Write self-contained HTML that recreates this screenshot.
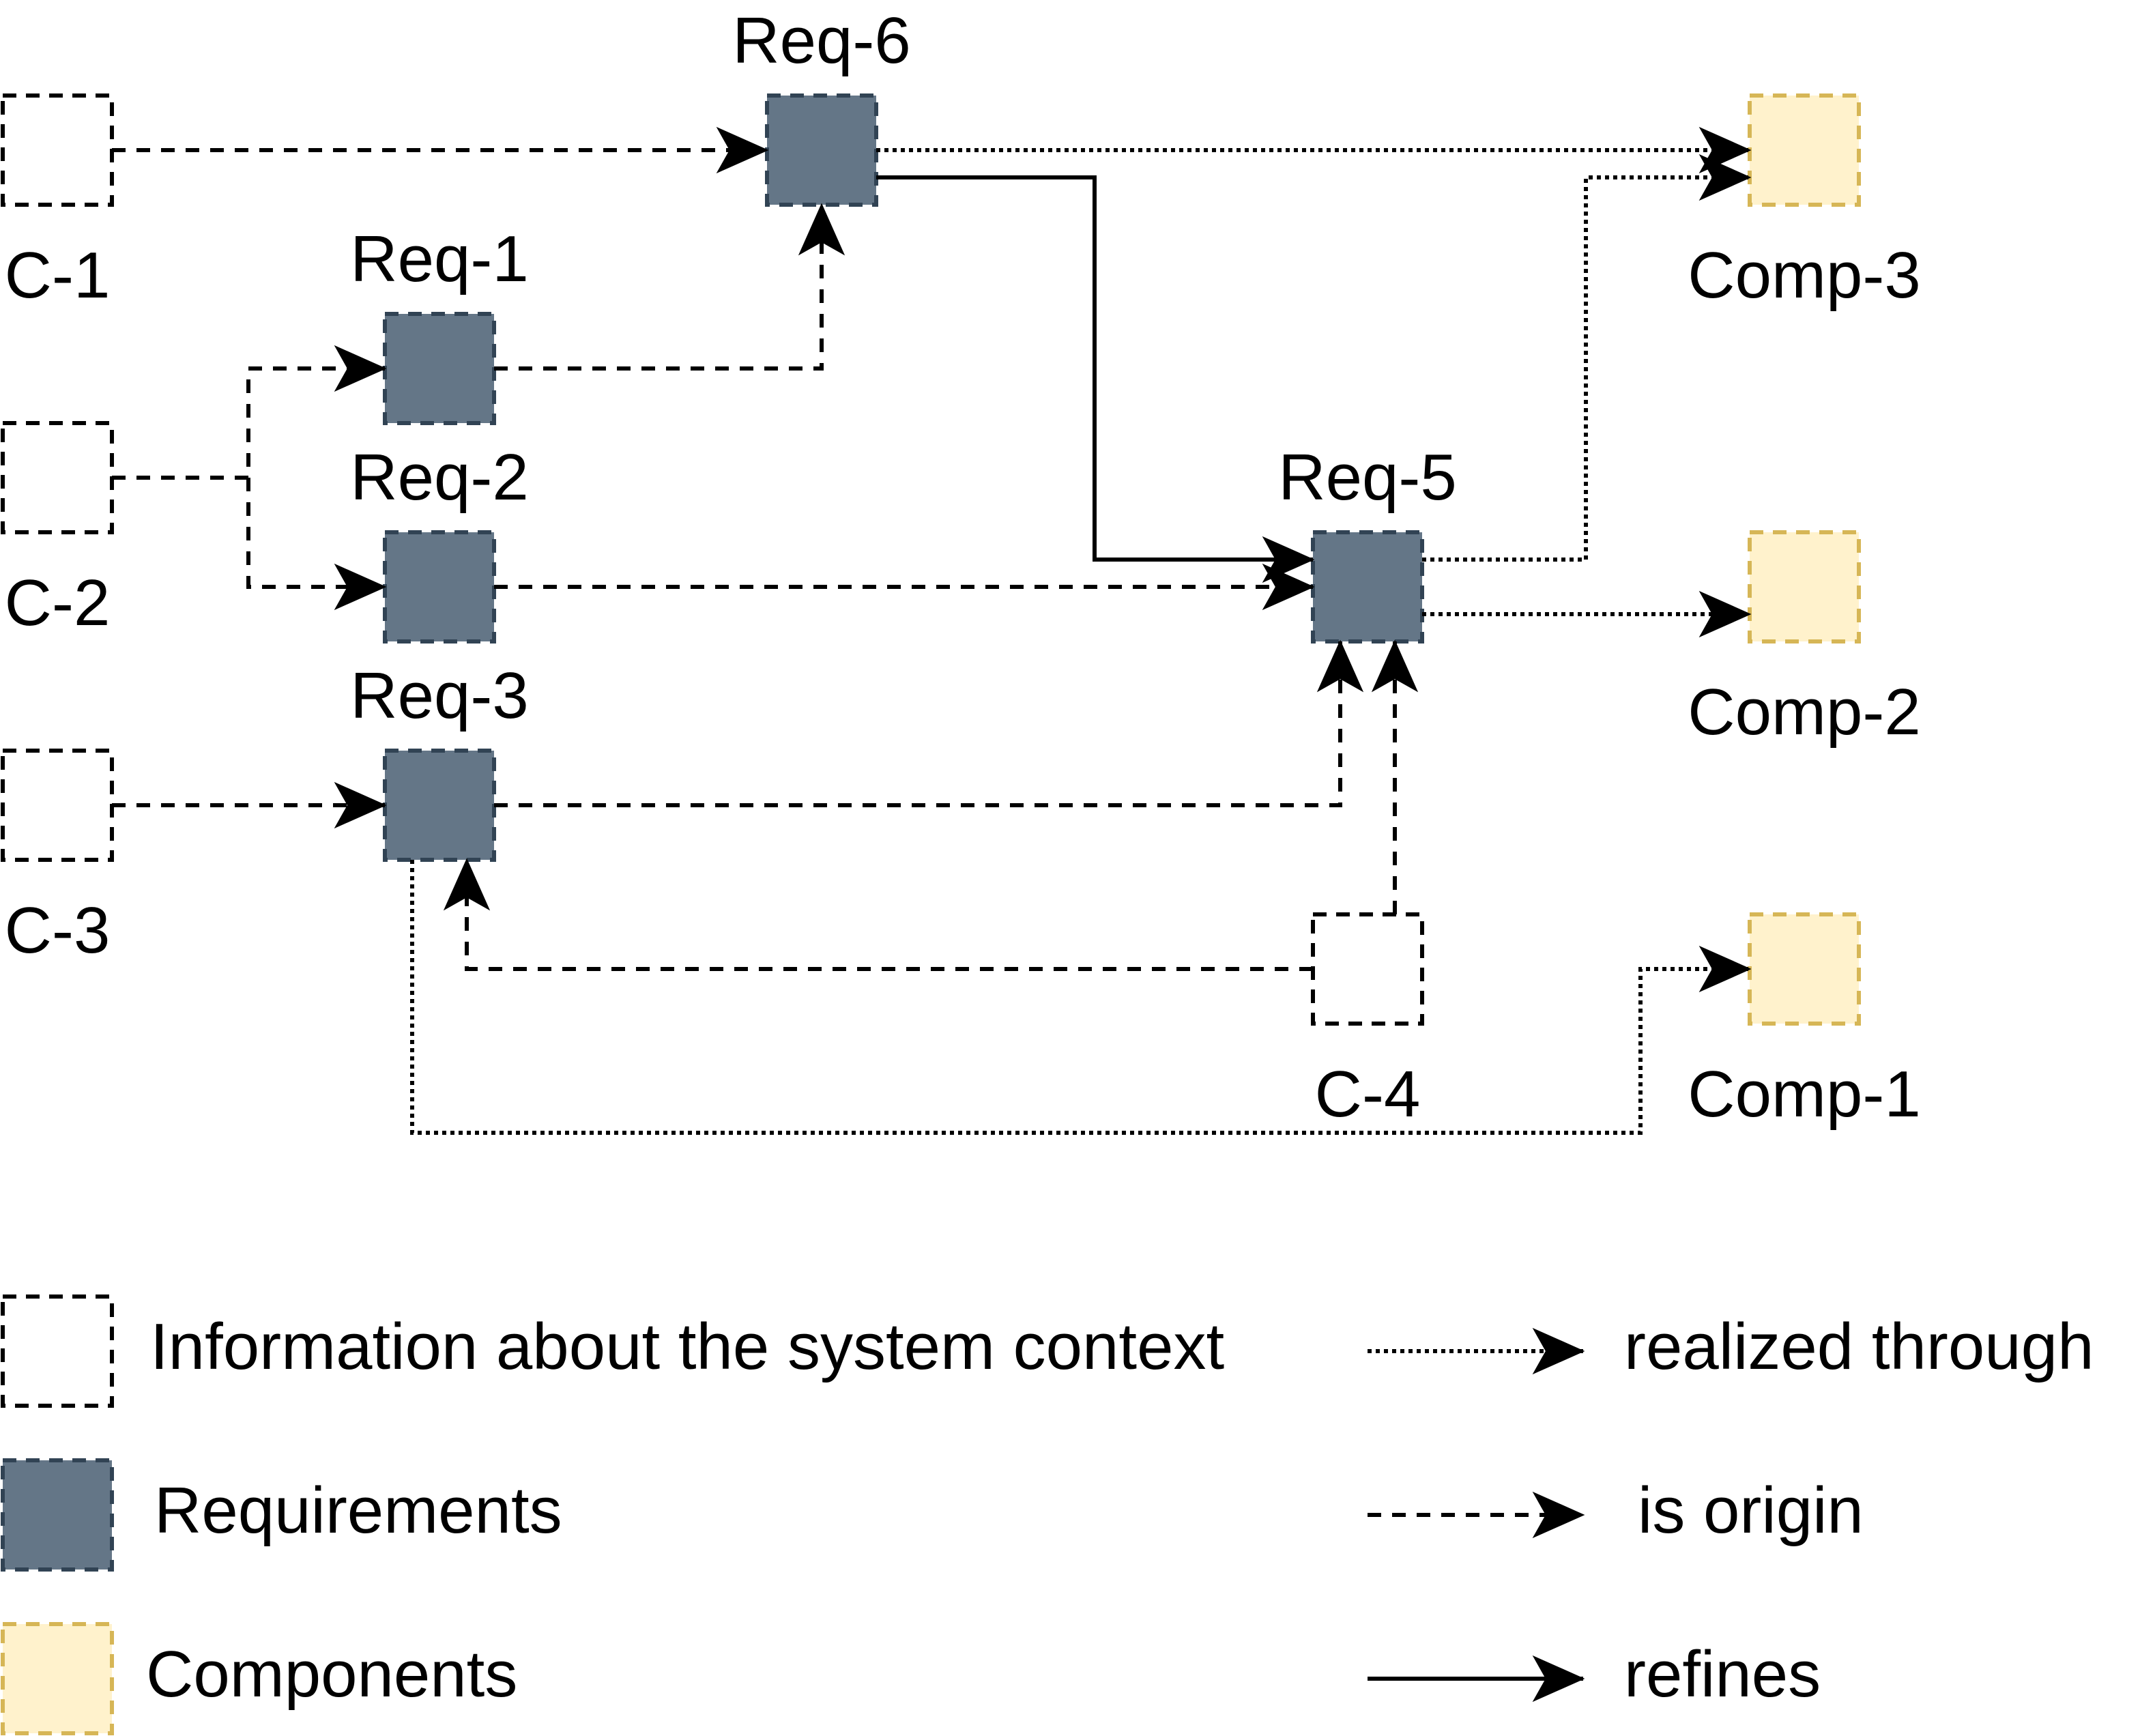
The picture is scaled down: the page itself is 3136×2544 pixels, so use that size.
<!DOCTYPE html>
<html><head><meta charset="utf-8"><style>
html,body{margin:0;padding:0;background:#fff;}
svg{display:block;}
text{font-family:"Liberation Sans",Arial,sans-serif;font-size:48px;fill:#000;}
</style></head><body>
<svg width="3136" height="2544" viewBox="0 0 1568 1272" xmlns="http://www.w3.org/2000/svg">
<defs>
<marker id="a" markerUnits="userSpaceOnUse" markerWidth="40" markerHeight="40" viewBox="-38 -20 40 40" refX="0" refY="0" orient="auto">
<path d="M0,0 L-36,-16 L-27,0 L-36,16 Z" fill="#000" stroke="#000" stroke-width="1"/>
</marker>
</defs>
<g fill="none" stroke="#000" stroke-width="3">
<g stroke-dasharray="10 7">
<rect x="2" y="70" width="80" height="80"/>
<rect x="2" y="310" width="80" height="80"/>
<rect x="2" y="550" width="80" height="80"/>
<rect x="962" y="670" width="80" height="80"/>
<rect x="2" y="950" width="80" height="80"/>
<g fill="#647687" stroke="#314354">
<rect x="562" y="70" width="80" height="80"/>
<rect x="282" y="230" width="80" height="80"/>
<rect x="282" y="390" width="80" height="80"/>
<rect x="282" y="550" width="80" height="80"/>
<rect x="962" y="390" width="80" height="80"/>
<rect x="2" y="1070" width="80" height="80"/>
</g>
<g fill="#fff2cc" stroke="#d6b656">
<rect x="1282" y="70" width="80" height="80"/>
<rect x="1282" y="390" width="80" height="80"/>
<rect x="1282" y="670" width="80" height="80"/>
<rect x="2" y="1190" width="80" height="80"/>
</g>
</g>
<g stroke-dasharray="10 8" marker-end="url(#a)">
<path d="M82,110 H562"/>
<path d="M362,270 H602 V150"/>
<path d="M82,350 H182 V270 H282"/>
<path d="M182,350 V430 H282"/>
<path d="M362,430 H962"/>
<path d="M82,590 H282"/>
<path d="M362,590 H982 V470"/>
<path d="M1022,670 V470"/>
<path d="M962,710 H342 V630"/>
<path d="M1002,1110 H1160"/>
</g>
<g stroke-dasharray="3 3" marker-end="url(#a)">
<path d="M642,110 H1282"/>
<path d="M1042,410 H1162 V130 H1282"/>
<path d="M1042,450 H1282"/>
<path d="M302,630 V830 H1202 V710 H1282"/>
<path d="M1002,990 H1160"/>
</g>
<g marker-end="url(#a)">
<path d="M642,130 H802 V410 H962"/>
<path d="M1002,1230 H1160"/>
</g>
</g>
<g text-anchor="middle">
<text x="42" y="218">C-1</text>
<text x="42" y="458">C-2</text>
<text x="42" y="698">C-3</text>
<text x="1002" y="818">C-4</text>
<text x="602" y="46">Req-6</text>
<text x="322" y="206">Req-1</text>
<text x="322" y="366">Req-2</text>
<text x="322" y="526">Req-3</text>
<text x="1002" y="366">Req-5</text>
<text x="1322" y="218">Comp-3</text>
<text x="1322" y="538">Comp-2</text>
<text x="1322" y="818">Comp-1</text>
</g>
<text x="110" y="1003">Information about the system context</text>
<text x="113" y="1123">Requirements</text>
<text x="107" y="1243">Components</text>
<text x="1190" y="1003">realized through</text>
<text x="1200" y="1123">is origin</text>
<text x="1190" y="1243">refines</text>
</svg>
</body></html>
